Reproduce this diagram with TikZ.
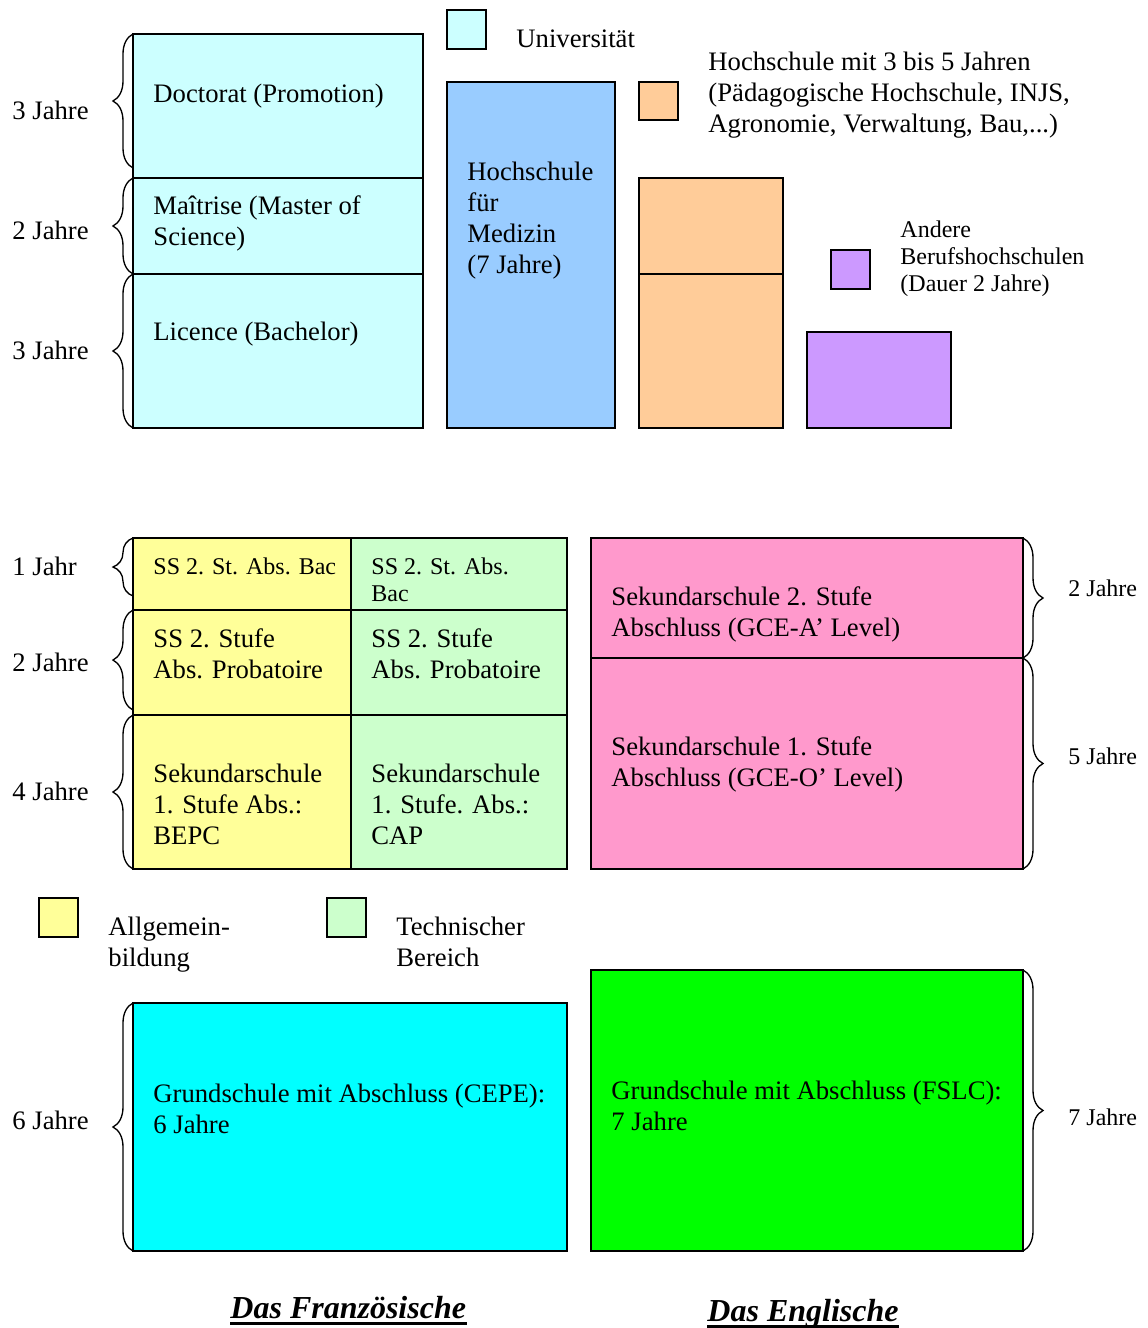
\documentclass[tikz,border=0pt]{standalone}
\usepackage{fontspec}
\setmainfont{Liberation Serif}
\usepackage{tikz}
\usetikzlibrary{decorations.pathreplacing,%
                positioning}

\definecolor{uni}{HTML}{CCFFFF}
\definecolor{med}{HTML}{99CCFF}
\definecolor{hsorange}{HTML}{FFCC99}
\definecolor{hslila}{HTML}{CC99FF}
\definecolor{allg}{HTML}{FFFF99}
\definecolor{tech}{HTML}{CCFFCC}
\definecolor{gce}{HTML}{FF99CC}
\definecolor{cepecol}{HTML}{00FFFF}
\definecolor{fslccol}{HTML}{00FF00}

\newcommand{\zeilen}[1]{\begin{tabular}[t]{@{}l@{}}#1\end{tabular}}

\tikzset{box/.style={draw, line width=0.8pt, anchor=north west, inner sep=0pt, outer sep=0pt},
         sz/.style 2 args={minimum width=#1*0.45pt, minimum height=#2*0.45pt},
         txt/.style={anchor=base west, inner sep=0pt, yshift=-1.1pt, font=\fontsize{12}{13.9}\selectfont},
         smalltxt/.style={txt, font=\fontsize{10.8}{12.2}\selectfont},
         titel/.style={anchor=base west, inner sep=0pt, font=\fontsize{14.4}{16}\selectfont\bfseries\itshape},
         klammer/.style={decorate, decoration={brace, amplitude=9pt}, line width=0.6pt}}

\begin{document}
\begin{tikzpicture}[x=0.45pt, y=-0.45pt]
\useasboundingbox (0,0) rectangle (1147,1328);
% Hochschulen
\node[box, sz={290}{144}, fill=uni] (doc) at (133,34) {};
\node[box, sz={290}{96}, fill=uni] (mai) at (133,178) {};
\node[box, sz={290}{154}, fill=uni] (lic) at (133,274) {};
\node[box, sz={168}{346}, fill=med] (med) at (447,82) {};
\node[box, sz={144}{96}, fill=hsorange] (hsa) at (639,178) {};
\node[box, sz={144}{154}, fill=hsorange] (hsb) at (639,274) {};
\node[box, sz={144}{96}, fill=hslila] (bhs) at (807,332) {};
\node[box, sz={39}{39}, fill=uni] (leguni) at (447,10) {};
\node[box, sz={39}{38}, fill=hsorange] (leghs) at (639,82) {};
\node[box, sz={39}{39}, fill=hslila] (legbhs) at (831,250) {};

\node[txt] (tdoc) at (153,100) {Doctorat (Promotion)};
\node[txt] (tmai) at (153,212) {\zeilen{Maîtrise (Master of\\Science)}};
\node[txt] (tlic) at (153,338) {Licence (Bachelor)};
\node[txt] (tmed) at (467,178) {\zeilen{Hochschule\\für\\Medizin\\(7 Jahre)}};
\node[txt] (tuni) at (516,45) {Universität};
\node[txt] (ths) at (708,68) {\zeilen{Hochschule mit 3 bis 5 Jahren\\(Pädagogische Hochschule, INJS,\\Agronomie, Verwaltung, Bau,...)}};
\node[smalltxt] (tbhs) at (900,235) {\zeilen{Andere\\Berufshochschulen\\(Dauer 2 Jahre)}};

\draw[klammer] ([yshift=4.5pt]doc.south west) -- (doc.north west);
\draw[klammer] (mai.south west) -- (mai.north west);
\draw[klammer] (lic.south west) -- (lic.north west);
\node[txt] (jdoc) at (12,117) {3 Jahre};
\node[txt] (jmai) at (12,237) {2 Jahre};
\node[txt] (jlic) at (12,357) {3 Jahre};

% Sekundarschulen
\node[box, sz={218}{72}, fill=allg] (gbac) at (133,538) {};
\node[box, sz={216}{72}, fill=tech] (tbac) at (351,538) {};
\node[box, sz={218}{105}, fill=allg] (gprob) at (133,610) {};
\node[box, sz={216}{105}, fill=tech] (tprob) at (351,610) {};
\node[box, sz={218}{154}, fill=allg] (gsek) at (133,715) {};
\node[box, sz={216}{154}, fill=tech] (tsek) at (351,715) {};
\node[box, sz={432}{120}, fill=gce] (gcea) at (591,538) {};
\node[box, sz={432}{211}, fill=gce] (gceo) at (591,658) {};

\node[smalltxt] (tgbac) at (153,572) {SS 2. St. Abs. Bac};
\node[smalltxt] (ttbac) at (371,572) {\zeilen{SS 2. St. Abs.\\Bac}};
\node[txt] (tgprob) at (153,645) {\zeilen{SS 2. Stufe\\Abs. Probatoire}};
\node[txt] (ttprob) at (371,645) {\zeilen{SS 2. Stufe\\Abs. Probatoire}};
\node[txt] (tgsek) at (153,780) {\zeilen{Sekundarschule\\1. Stufe Abs.:\\BEPC}};
\node[txt] (ttsek) at (371,780) {\zeilen{Sekundarschule\\1. Stufe. Abs.:\\CAP}};
\node[txt] (tgcea) at (611,603) {\zeilen{Sekundarschule 2. Stufe\\Abschluss (GCE-A’ Level)}};
\node[txt] (tgceo) at (611,753) {\zeilen{Sekundarschule 1. Stufe\\Abschluss (GCE-O’ Level)}};

\draw[klammer] ([yshift=6.3pt]gbac.south west) -- (gbac.north west);
\draw[klammer] ([yshift=2.2pt]gprob.south west) -- (gprob.north west);
\draw[klammer] (gsek.south west) -- (gsek.north west);
\draw[klammer] (gcea.north east) -- (gcea.south east);
\draw[klammer] (gceo.north east) -- (gceo.south east);
\node[txt] (jbac) at (12,573) {1 Jahr};
\node[txt] (jprob) at (12,669) {2 Jahre};
\node[txt] (jsek) at (12,798) {4 Jahre};
\node[smalltxt] (jgcea) at (1068,594) {2 Jahre};
\node[smalltxt] (jgceo) at (1068,762) {5 Jahre};

\node[box, sz={39}{39}, fill=allg] (legallg) at (39,898) {};
\node[box, sz={39}{39}, fill=tech] (legtech) at (327,898) {};
\node[txt] (tallg) at (108,933) {\zeilen{Allgemein-\\bildung}};
\node[txt] (ttech) at (396,933) {\zeilen{Technischer\\Bereich}};

% Grundschulen
\node[box, sz={434}{248}, fill=cepecol] (cepe) at (133,1003) {};
\node[box, sz={432}{281}, fill=fslccol] (fslc) at (591,970) {};
\node[txt] (tcepe) at (153,1100) {\zeilen{Grundschule mit Abschluss (CEPE):\\6 Jahre}};
\node[txt] (tfslc) at (611,1097) {\zeilen{Grundschule mit Abschluss (FSLC):\\7 Jahre}};
\draw[klammer] (cepe.south west) -- (cepe.north west);
\draw[klammer] (fslc.north east) -- (fslc.south east);
\node[txt] (jcepe) at (12,1127) {6 Jahre};
\node[smalltxt] (jfslc) at (1068,1123) {7 Jahre};

\node[titel] (fr) at (230,1318) {Das Französische};
\node[titel] (en) at (707,1321) {Das Englische};
\draw[line width=1.1pt] ([yshift=-2.5pt]fr.base west) -- ([yshift=-2.5pt]fr.base east);
\draw[line width=1.1pt] ([yshift=-2.5pt]en.base west) -- ([yshift=-2.5pt]en.base east);
\end{tikzpicture}
\end{document}
